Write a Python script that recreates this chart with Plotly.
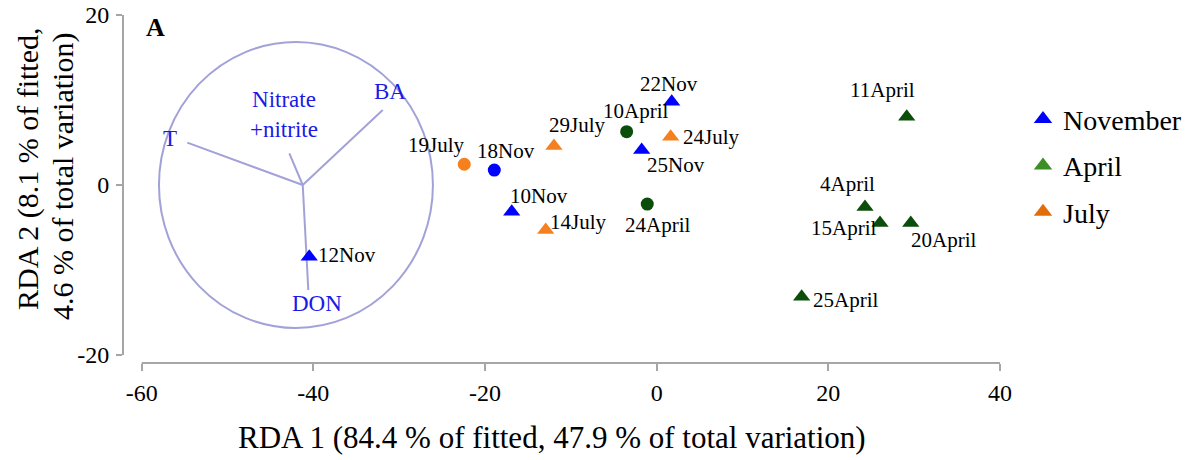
import plotly.graph_objects as go

# ---------------- data ----------------
samples = ["22Nov", "25Nov", "18Nov", "10Nov", "12Nov",
           "10April", "24April", "11April", "4April", "15April", "20April", "25April",
           "24July", "29July", "19July", "14July"]
rda1 = [1.75, -1.75, -18.92, -16.89, -40.48,
        -3.5, -1.1, 29.13, 24.27, 26.02, 29.6, 16.89,
        1.63, -11.97, -22.42, -12.93]
rda2 = [9.8, 4.12, 1.76, -3.14, -8.44,
        6.27, -2.24, 8.04, -2.59, -4.47, -4.47, -13.14,
        5.68, 4.59, 2.44, -5.29]
month = ["November", "November", "November", "November", "November",
         "April", "April", "April", "April", "April", "April", "April",
         "July", "July", "July", "July"]
kind = ["tri", "tri", "dot", "tri", "tri",
        "dot", "dot", "tri", "tri", "tri", "tri", "tri",
        "tri", "tri", "dot", "tri"]

months = ["November", "April", "July"]

# environmental vectors (biplot)
env_names = ["T", "Nitrate<br>+nitrite", "BA", "DON"]
env_origin_x = -41.24
env_origin_y = 0.0
env_x = [-54.69, -42.8, -31.92, -40.59]
env_y = [4.98, 3.73, 8.82, -12.35]
env_label_x = [-56.7, -43.4, -31.07, -39.61]
env_label_y = [5.53, 8.27, 10.98, -13.92]

# equilibrium circle
circle_cx, circle_cy = -42.03, 0.0
circle_rx, circle_ry = 15.96, 16.82

x_ticks = [-60, -40, -20, 0, 20, 40]
x_tick_labels = ["-60", "-40", "-20", "0", "20", "40"]
y_ticks = [-20, 0, 20]
y_tick_labels = ["-20", "0", "20"]

x_title = "RDA 1 (84.4 % of fitted, 47.9 % of total variation)"
y_title_lines = ["RDA 2 (8.1 % of fitted,", "4.6 % of total variation)"]

# ---------------- layout / styles ----------------
W, H = 1192, 460
ML, MR, MT, MB = 123, 0, 15, 97
PW, PH = W - ML - MR, H - MT - MB
X_MIN = -62.18
X_MAX = X_MIN + PW / 8.583          # keeps 8.583 px per RDA1 unit
Y_MIN, Y_MAX = -20.94, 20.0


def px_x(px):
    return (px - ML) / PW


def px_y(py):
    return (H - MB - py) / PH


FONT = "Liberation Serif, Times New Roman, serif"
point_colors = {"November": "#0000ff", "April": "#0b4d0b", "July": "#f5801e"}
legend_colors = {"November": "#0000ff", "April": "#3c8f25", "July": "#e36c0a"}
symbols = {"tri": "triangle-up", "dot": "circle"}
sizes = {"tri": 15, "dot": 13}
VEC_COLOR = "#a2a2d8"
AXIS_COLOR = "#a6a6a6"

# label placement: (xanchor, dx px, dy px (down +))
label_pos = {
    "22Nov": ("center", -3, -18), "10April": ("center", 9, -21),
    "24July": ("left", 10, 0), "25Nov": ("left", 3, 15),
    "29July": ("center", 24, -21), "19July": ("center", -28, -19),
    "18Nov": ("center", 12, -19), "10Nov": ("center", 27, -16),
    "14July": ("left", 2, -8), "24April": ("center", 10, 21),
    "12Nov": ("left", 7, -2), "11April": ("center", -24, -27),
    "4April": ("center", -18, -23), "15April": ("right", -2, 5),
    "20April": ("left", -2, 17), "25April": ("left", 9, 3),
}
y_title_px = [(28, 169), (63, 177)]

fig = go.Figure()

# circle
fig.add_shape(type="circle", xref="x", yref="y",
              x0=circle_cx - circle_rx, x1=circle_cx + circle_rx,
              y0=circle_cy - circle_ry, y1=circle_cy + circle_ry,
              line=dict(color=VEC_COLOR, width=2), layer="below")

# vectors
vx, vy = [], []
for ex, ey in zip(env_x, env_y):
    vx += [env_origin_x, ex, None]
    vy += [env_origin_y, ey, None]
fig.add_trace(go.Scatter(x=vx, y=vy, mode="lines", showlegend=False,
                         line=dict(color=VEC_COLOR, width=2), hoverinfo="skip"))

# points
for m in months:
    idx = [i for i, mm in enumerate(month) if mm == m]
    fig.add_trace(go.Scatter(
        x=[rda1[i] for i in idx], y=[rda2[i] for i in idx], mode="markers",
        showlegend=False, name=m,
        marker=dict(color=point_colors[m], opacity=1,
                    symbol=[symbols[kind[i]] for i in idx],
                    size=[sizes[kind[i]] for i in idx], line=dict(width=0)),
        text=[samples[i] for i in idx]))

# legend-only traces
for m in months:
    fig.add_trace(go.Scatter(x=[None], y=[None], mode="markers", name=m,
                             legendgroup=m,
                             marker=dict(color=legend_colors[m], symbol="triangle-up",
                                         size=17, opacity=1)))

annotations = []
for s, x, y in zip(samples, rda1, rda2):
    anc, dx, dy = label_pos[s]
    annotations.append(dict(x=x, y=y, xref="x", yref="y", text=s, showarrow=False,
                            xanchor=anc, yanchor="middle", xshift=dx, yshift=-dy,
                            font=dict(family=FONT, size=21, color="black")))
for name, lx, ly in zip(env_names, env_label_x, env_label_y):
    annotations.append(dict(x=lx, y=ly, xref="x", yref="y", text=name, showarrow=False,
                            xanchor="center", yanchor="middle",
                            font=dict(family=FONT, size=23, color="#1a1ae6")))
annotations.append(dict(x=px_x(155), y=px_y(28), xref="paper", yref="paper",
                        text="<b>A</b>", showarrow=False, xanchor="center", yanchor="middle",
                        font=dict(family=FONT, size=26, color="black")))
annotations.append(dict(x=px_x(552), y=px_y(437), xref="paper", yref="paper",
                        text=x_title, showarrow=False, xanchor="center", yanchor="middle",
                        font=dict(family=FONT, size=31, color="black")))
for line, (px, py) in zip(y_title_lines, y_title_px):
    annotations.append(dict(x=px_x(px), y=px_y(py), xref="paper", yref="paper", text=line,
                            showarrow=False, xanchor="center", yanchor="middle",
                            textangle=-90,
                            font=dict(family=FONT, size=30, color="black")))

shapes_axes = [
    dict(type="line", xref="paper", yref="y", x0=0, x1=0, y0=-20, y1=20,
         line=dict(color=AXIS_COLOR, width=2)),
    dict(type="line", xref="x", yref="paper", x0=-60, x1=40, y0=0, y1=0,
         line=dict(color=AXIS_COLOR, width=2)),
]
for sh in shapes_axes:
    fig.add_shape(**sh)

fig.update_layout(
    width=W, height=H,
    margin=dict(l=ML, r=MR, t=MT, b=MB),
    paper_bgcolor="white", plot_bgcolor="white",
    font=dict(family=FONT, color="black"),
    xaxis=dict(range=[X_MIN, X_MAX], tickvals=x_ticks, ticktext=x_tick_labels,
               showgrid=False, zeroline=False, automargin=False,
               showline=False, ticks="outside", ticklen=7, tickwidth=2, tickcolor=AXIS_COLOR,
               tickfont=dict(family=FONT, size=24), ticklabelstandoff=1,
               ticklabeloverflow="allow"),
    yaxis=dict(range=[Y_MIN, Y_MAX], tickvals=y_ticks, ticktext=y_tick_labels,
               showgrid=False, zeroline=False, automargin=False,
               showline=False, ticks="outside", ticklen=6, tickwidth=2, tickcolor=AXIS_COLOR,
               tickfont=dict(family=FONT, size=24), ticklabelstandoff=2,
               ticklabeloverflow="allow"),
    legend=dict(x=px_x(1023), y=0.772, xanchor="left", yanchor="top",
                font=dict(family=FONT, size=28), tracegroupgap=7,
                bgcolor="rgba(0,0,0,0)"),
    annotations=annotations,
    showlegend=True,
)

fig.write_html("out.html", config={"displayModeBar": False},
               post_script="document.body.style.margin='0';document.body.style.overflow='hidden';")
